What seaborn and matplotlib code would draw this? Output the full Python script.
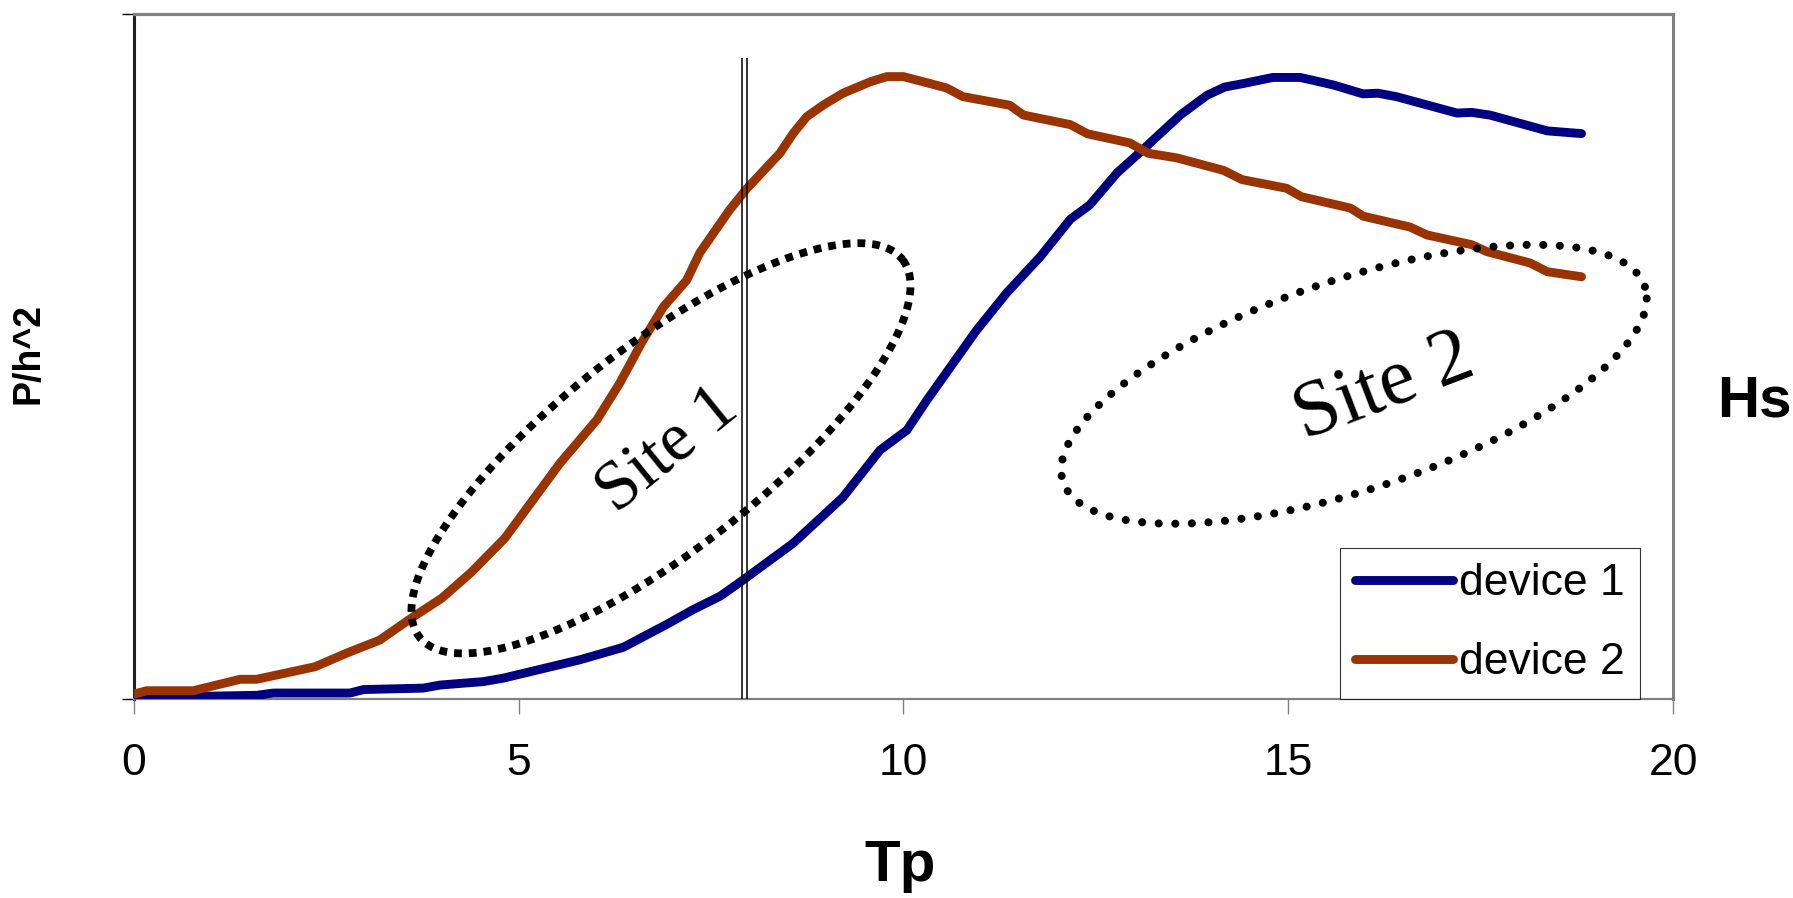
import numpy as np
import pandas as pd
import matplotlib
matplotlib.use("Agg")
import matplotlib.pyplot as plt
import seaborn as sns
from matplotlib.lines import Line2D

# ---------------- data ----------------
tp_device1 = [0.0, 1.597, 1.813, 2.808, 2.987, 3.759, 3.982, 4.541, 4.799, 5.795,
              6.360, 6.924, 7.266, 7.623, 7.920, 8.568, 9.213, 9.697, 10.045, 10.306,
              10.951, 11.346, 11.776, 12.169, 12.422, 12.779, 13.076, 13.596, 13.945,
              14.175, 14.413, 14.799, 15.156, 15.587, 15.973, 16.166, 16.404, 17.192,
              17.385, 17.623, 18.366, 18.811]
p_device1 = [0.17, 0.5, 0.83, 0.83, 1.34, 1.55, 2.0, 2.5, 3.0, 5.68,
             7.51, 10.85, 13.0, 15.0, 17.36, 22.7, 29.4, 36.3, 39.2, 43.6,
             53.8, 59.3, 64.5, 70.0, 72.1, 76.8, 79.8, 85.2, 88.1,
             89.3, 89.8, 90.7, 90.7, 89.6, 88.3, 88.4, 87.9, 85.5,
             85.6, 85.2, 82.9, 82.5]

tp_device2 = [0.0, 0.169, 0.773, 1.382, 1.597, 2.355, 2.771, 3.195, 3.626, 4.004,
              4.392, 4.823, 5.538, 6.018, 6.315, 6.612, 6.880, 7.184, 7.355, 7.741,
              7.964, 8.395, 8.568, 8.744, 8.960, 9.212, 9.569, 9.785, 10.0, 10.342,
              10.565, 10.773, 11.382, 11.560, 12.169, 12.392, 12.942, 13.180, 13.551,
              14.160, 14.398, 14.978, 15.171, 15.810, 15.973, 16.582, 16.805, 17.385,
              17.578, 18.143, 18.366, 18.811]
p_device2 = [0.67, 1.17, 1.17, 2.84, 2.84, 4.67, 6.68, 8.56, 11.92, 14.69,
             18.53, 23.46, 34.39, 40.73, 46.08, 52.25, 57.18, 61.10, 65.11, 71.35,
             74.46, 79.63, 82.54, 84.97, 86.68, 88.38, 90.07, 90.82, 90.82, 89.82,
             89.15, 87.90, 86.64, 85.21, 83.81, 82.47, 81.14, 79.63, 78.96,
             77.13, 75.79, 74.52, 73.29, 71.62, 70.45, 68.86, 67.70, 66.28,
             65.28, 63.61, 62.34, 61.60]

series_names = ["device 1", "device 2"]
series_colors = ["#000080", "#993300"]
x_ticks = [0, 5, 10, 15, 20]
x_tick_labels = ["0", "5", "10", "15", "20"]
y_ticks = [0, 100]

# annotations
site_labels = ["Site 1", "Site 2"]
site1_center = (6.850, 36.56)
site1_axis_a = (3.138, 27.56)
site1_axis_b = (0.815, -11.71)
site2_center = (15.854, 45.91)
site2_axis_a = (3.804, 12.52)
site2_axis_b = (0.0, -16.06)
site1_text_pos = (6.95, 36.2)
site2_text_pos = (16.25, 45.3)
marker_line_x = [7.897, 7.963]
marker_line_top = 93.5

# ---------------- figure ----------------
sns.set_style("white")
plt.rcParams['font.family'] = ['Liberation Sans', 'DejaVu Sans']
plt.rcParams['text.color'] = 'black'
plt.rcParams['xtick.color'] = 'black'
plt.rcParams['ytick.color'] = 'black'

fig = plt.figure(figsize=(17.93, 8.98), dpi=100)
ax = fig.add_axes([0.0746, 0.2219, 0.9331 - 0.0746, 0.9847 - 0.2219])

df = pd.concat([
    pd.DataFrame({"Tp": tp_device1, "P": p_device1, "series": series_names[0]}),
    pd.DataFrame({"Tp": tp_device2, "P": p_device2, "series": series_names[1]}),
])
sns.lineplot(data=df, x="Tp", y="P", hue="series", palette=series_colors,
             estimator=None, sort=False, linewidth=6.4, ax=ax, legend=False,
             zorder=3)
for ln in ax.get_lines():
    ln.set_solid_capstyle("round")
    ln.set_solid_joinstyle("round")

# ellipses
t = np.linspace(0, 2 * np.pi, 400)
c, a, b = np.array(site1_center), np.array(site1_axis_a), np.array(site1_axis_b)
e1 = c[:, None] + a[:, None] * np.cos(t) + b[:, None] * np.sin(t)
ax.plot(e1[0], e1[1], color="black", linewidth=5.6, linestyle=(0, (1, 0.9)),
        dash_capstyle="butt", zorder=4)
c, a, b = np.array(site2_center), np.array(site2_axis_a), np.array(site2_axis_b)
e2 = c[:, None] + a[:, None] * np.cos(t) + b[:, None] * np.sin(t)
ax.plot(e2[0], e2[1], color="black", linewidth=5.8, linestyle=(0, (0.01, 2.05)),
        dash_capstyle="round", zorder=4)

ax.text(*site1_text_pos, site_labels[0], rotation=39, ha="center", va="center",
        fontsize=50, color="black", family=["Liberation Serif", "DejaVu Serif"],
        zorder=6, rotation_mode="anchor")
ax.text(*site2_text_pos, site_labels[1], rotation=21, ha="center", va="center",
        fontsize=58, color="black", family=["Liberation Serif", "DejaVu Serif"],
        zorder=6, rotation_mode="anchor")

# double vertical line
ax.vlines(marker_line_x, 0, marker_line_top, colors="black", linewidth=1.1, zorder=5)

ax.set_xlim(0, 20)
ax.set_ylim(0, 100)
ax.set_xticks(x_ticks)
ax.set_xticklabels(x_tick_labels)
ax.set_yticks(y_ticks)
ax.set_yticklabels([])
ax.tick_params(axis="x", direction="out", length=10.8, width=1, color="#808080",
               labelcolor="black", labelsize=32, pad=21, bottom=True)
ax.tick_params(axis="y", direction="out", length=8.5, width=1, color="black",
               left=True)
ax.set_xlabel("")
ax.set_ylabel("")

for side in ["top", "right", "bottom", "left"]:
    ax.spines[side].set_visible(True)
ax.spines["top"].set_color("#808080")
ax.spines["top"].set_linewidth(2.3)
ax.spines["right"].set_color("#808080")
ax.spines["right"].set_linewidth(2.2)
ax.spines["bottom"].set_color("#808080")
ax.spines["bottom"].set_linewidth(1.6)
ax.spines["left"].set_color("#222222")
ax.spines["left"].set_linewidth(2.2)

# legend
handles = [Line2D([0], [0], color=col, linewidth=6.4, solid_capstyle="round")
           for col in series_colors]
leg = ax.legend(handles, series_names, loc="lower right",
                bbox_to_anchor=(0.9786, 0.0), borderaxespad=0, fontsize=32,
                frameon=True, fancybox=False, edgecolor="black",
                handlelength=2.2, handletextpad=0.13, borderpad=0.35,
                labelspacing=0.85)
leg.get_frame().set_linewidth(0.8)
for txt in leg.get_texts():
    txt.set_color("black")
leg.set_zorder(7)

fig.text(0.502, 0.0356, "Tp", ha="center", va="center", fontsize=42,
         fontweight="bold", color="black")
fig.text(0.016, 0.606, "P/h^2", ha="center", va="center", rotation=90,
         fontsize=27, fontweight="bold", color="black")
fig.text(0.9576, 0.553, "Hs", ha="left", va="center", fontsize=42,
         fontweight="bold", color="black")

fig.savefig("out.png", dpi=100, facecolor="white")
